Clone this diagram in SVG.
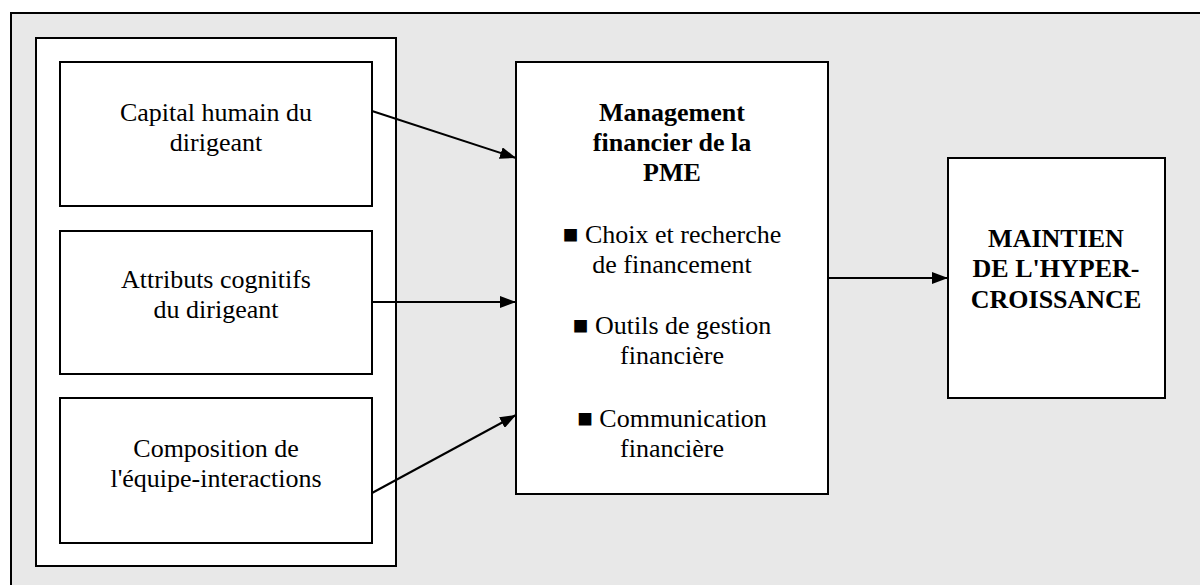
<svg xmlns="http://www.w3.org/2000/svg" width="1200" height="585" viewBox="0 0 1200 585">
  <style>
    .frame{fill:#e8e8e8;stroke:#000;stroke-width:2}
    .box{fill:#fff;stroke:#000;stroke-width:2}
    text{font-family:'Liberation Serif','Times New Roman','DejaVu Serif',serif;font-size:26px;fill:#000;text-anchor:middle}
    .b{font-weight:bold}
    .conn{stroke:#000;stroke-width:2;fill:none;marker-end:url(#arr)}
  </style>
  <defs>
    <marker id="arr" markerUnits="userSpaceOnUse" markerWidth="16" markerHeight="12" refX="16" refY="6" orient="auto">
      <path d="M0,0 L16,6 L0,12 z" fill="#000"/>
    </marker>
  </defs>
  <rect x="0" y="0" width="1200" height="585" fill="#fff"/>
  <rect class="frame" x="11" y="13" width="1200" height="590"/>
  <g id="container">
    <rect class="box" x="36" y="38" width="360" height="528"/>
  </g>
  <g id="capital" font-family="Liberation Serif, serif">
    <rect class="box" x="60" y="62" width="312" height="144"/>
    <text x="216" y="121">Capital humain du</text>
    <text x="216" y="151">dirigeant</text>
  </g>
  <g id="attributs">
    <rect class="box" x="60" y="231" width="312" height="143"/>
    <text x="216" y="288">Attributs cognitifs</text>
    <text x="216" y="318">du dirigeant</text>
  </g>
  <g id="composition">
    <rect class="box" x="60" y="398" width="312" height="145"/>
    <text x="216" y="457">Composition de</text>
    <text x="216" y="487">l'équipe-interactions</text>
  </g>
  <g id="management">
    <rect class="box" x="516" y="62" width="312" height="432"/>
    <text class="b" x="672" y="121">Management</text>
    <text class="b" x="672" y="151">financier de la</text>
    <text class="b" x="672" y="181">PME</text>
    <text x="672" y="243">■ Choix et recherche</text>
    <text x="672" y="273">de financement</text>
    <text x="672" y="334">■ Outils de gestion</text>
    <text x="672" y="364">financière</text>
    <text x="672" y="427">■ Communication</text>
    <text x="672" y="457">financière</text>
  </g>
  <g id="maintien">
    <rect class="box" x="948" y="158" width="217" height="240" stroke-width="3"/>
    <text class="b" x="1056" y="247">MAINTIEN</text>
    <text class="b" x="1056" y="277">DE L'HYPER-</text>
    <text class="b" x="1056" y="308">CROISSANCE</text>
  </g>
  <g id="connectors">
    <line class="conn" x1="372" y1="111" x2="516" y2="158"/>
    <line class="conn" x1="372" y1="302" x2="516" y2="302"/>
    <line class="conn" x1="372" y1="493" x2="516" y2="415"/>
    <line class="conn" x1="828" y1="278" x2="948" y2="278"/>
  </g>
</svg>
